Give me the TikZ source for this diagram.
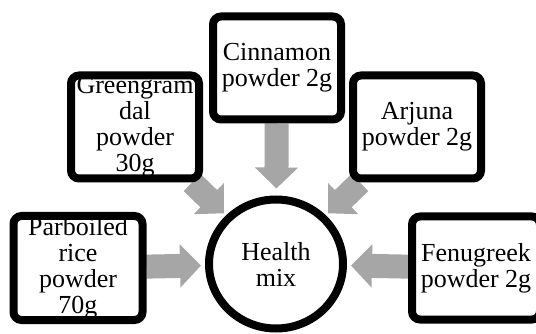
\documentclass[tikz,border=0pt]{standalone}
\usepackage{fontspec}
\setmainfont{Liberation Serif}
\usetikzlibrary{arrows.meta,shapes.geometric,shadows,backgrounds}
\definecolor{mixGray}{RGB}{166,166,166}
\tikzset{
  ingbox/.style={draw=black, line width=8pt, rounded corners=8pt, fill=white,
    minimum width=128pt, minimum height=103pt, inner sep=0pt, align=center,
    font=\fontsize{26}{26}\selectfont,
    drop shadow={opacity=0.25, shadow xshift=2pt, shadow yshift=-3pt}},
  mixnode/.style={ellipse, draw=black, line width=8pt, fill=white,
    minimum width=134pt, minimum height=129pt, inner sep=0pt, align=center,
    font=\fontsize{26}{26}\selectfont,
    drop shadow={opacity=0.25, shadow xshift=2pt, shadow yshift=-3pt}},
  mixarrow/.style={draw=mixGray, line width=24pt,
    -{Triangle[width=42pt,length=21pt]}}
}
\begin{document}
\begin{tikzpicture}[x=1pt,y=-1pt]
  \useasboundingbox (0,0) rectangle (536,334);
  \clip (0,0) rectangle (536,334);
  % Ingredients
  \node[ingbox] (cinn) at (277,68) {Cinnamon\\powder 2g};
  \node[ingbox] (green) at (135,127) {Greengram\\dal\\powder\\30g};
  \node[ingbox] (arjuna) at (417,127) {Arjuna\\powder 2g};
  \node[ingbox, minimum width=129pt, minimum height=104pt] (parb) at (78,268)
    {Parboiled\\rice\\powder\\70g};
  \node[ingbox] (fenu) at (476,268) {Fenugreek\\powder 2g};
  % Health mix
  \node[mixnode] (mix) at (276,264) {Health\\mix};
  % Arrows
  \begin{scope}[on background layer]
    \fill[white] (0,0) rectangle (536,334);
    \draw[mixarrow, shorten >=4pt] (parb) -- (mix);
    \draw[mixarrow, shorten >=4pt] (fenu) -- (mix);
    \draw[mixarrow, shorten >=7pt] (cinn) -- (mix);
    \draw[mixarrow, shorten >=3pt] (green) -- (mix);
    \draw[mixarrow, shorten >=3pt] (arjuna) -- (mix);
  \end{scope}
\end{tikzpicture}
\end{document}
